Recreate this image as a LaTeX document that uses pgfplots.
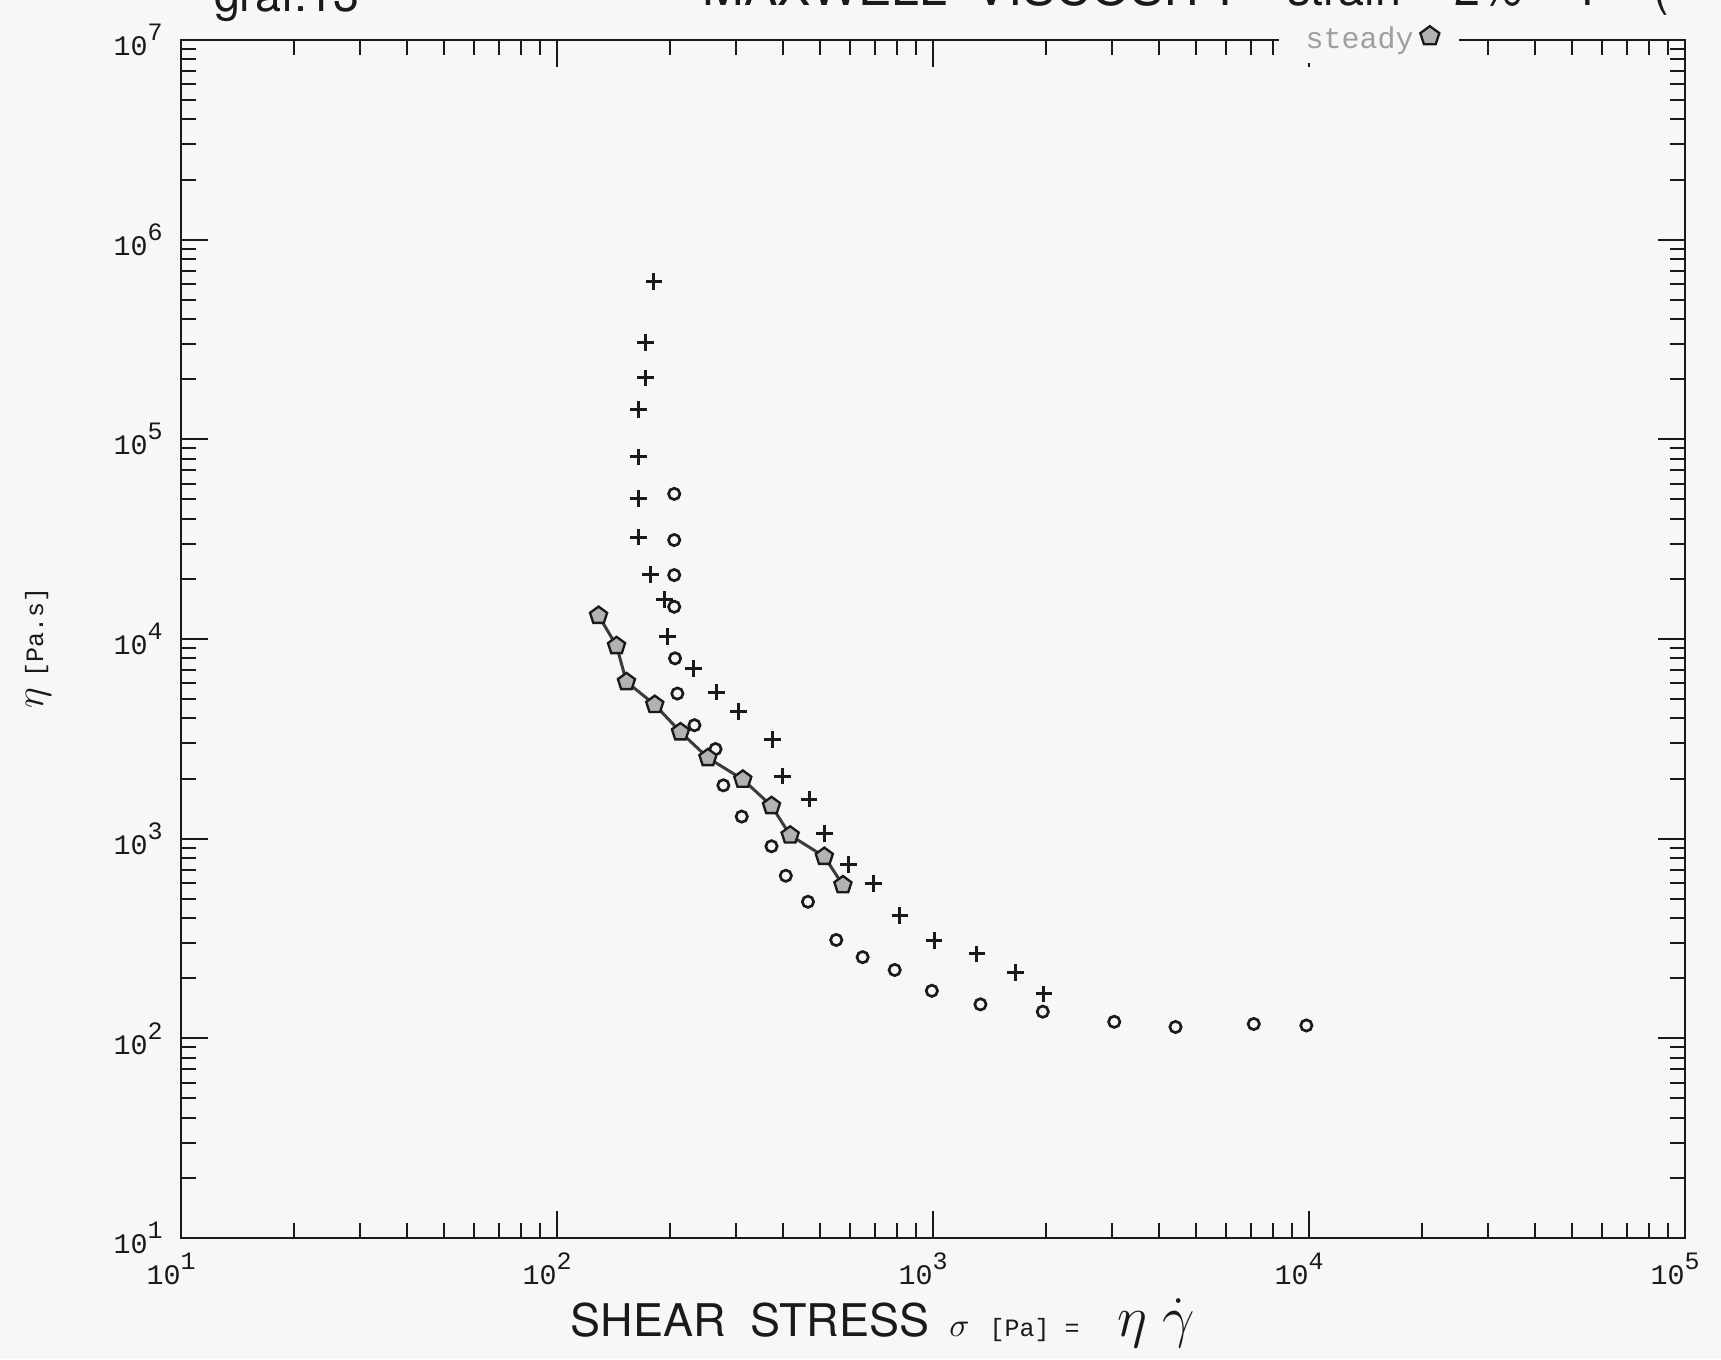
\documentclass[border=0pt]{standalone}
\usepackage{pgfplots}
\pgfplotsset{compat=1.18}
\usepackage{pgfplotstable}
\usepackage{fontspec}
\setmainfont{TeX Gyre Heros}
\newfontfamily\monof{Liberation Mono}
\definecolor{bg}{HTML}{F7F7F7}
\definecolor{ink}{HTML}{1A1A1A}
\newcommand{\tl}[1]{{\monof\fontsize{8.5}{9}\selectfont 10\raisebox{1.0ex}{\fontsize{7.5}{8}\selectfont #1}}}

\pgfplotstableread{
x y
181 6.19e5
172 3.05e5
172 2.03e5
165 1.41e5
165 8.17e4
165 5.05e4
165 3.24e4
177 2.11e4
193 1.58e4
197 1.03e4
231 7.14e3
266 5.42e3
304 4.33e3
375 3.13e3
398 2.06e3
468 1.58e3
514 1.06e3
596 745
695 596
817 413
1007 310
1309 265
1655 214
1972 167
}\crosses

\pgfplotstableread{
x y
205 5.33e4
205 3.13e4
205 2.09e4
205 1.45e4
206 8.0e3
209 5.33e3
232 3.70e3
264 2.81e3
277 1.85e3
310 1.29e3
372 916
406 652
465 483
553 311
650 255
791 220
993 173
1337 148
1959 136
3034 121
4416 114
7130 118
9840 116
}\circles

\pgfplotstableread{
x y
129 1.31e4
144 9.24e3
153 6.10e3
182 4.69e3
213 3.42e3
252 2.54e3
312 1.98e3
372 1.46e3
417 1.04e3
514 813
576 586
}\steady

\begin{document}
\begin{tikzpicture}
\fill[bg] (0,0) rectangle (516.3pt,407.7pt);
\begin{axis}[
  at={(54.3pt,36.3pt)}, anchor=south west,
  scale only axis, width=451.2pt, height=359.4pt,
  xmode=log, ymode=log,
  xmin=10, xmax=1e5, ymin=10, ymax=1e7,
  axis line style={ink, line width=0.7pt},
  tick style={ink, line width=0.6pt},
  major tick length=8pt, minor tick length=4.5pt,
  tick align=inside,
  xtick={10,100,1000,10000,100000},
  xticklabels={\tl{1},\tl{2},\tl{3},\tl{4},\tl{5}},
  ytick={10,100,1000,10000,100000,1000000,10000000},
  yticklabels={\tl{1},\tl{2},\tl{3},\tl{4},\tl{5},\tl{6},\tl{7}},
  minor xtick={20,30,40,50,60,70,80,90,200,300,400,500,600,700,800,900,2000,3000,4000,5000,6000,7000,8000,9000,20000,30000,40000,50000,60000,70000,80000,90000},
  minor ytick={20,30,40,50,60,70,80,90,200,300,400,500,600,700,800,900,2000,3000,4000,5000,6000,7000,8000,9000,20000,30000,40000,50000,60000,70000,80000,90000,2e5,3e5,4e5,5e5,6e5,7e5,8e5,9e5,2e6,3e6,4e6,5e6,6e6,7e6,8e6,9e6},
  xticklabel style={yshift=-1pt, xshift=-3pt, text=ink},
  yticklabel style={xshift=-2pt, text=ink},
  legend plot pos=right,
  legend style={at={(0.79,1)}, anchor=center, fill=bg, draw=none,
    inner xsep=6pt, inner ysep=1pt, text=gray!75,
    font=\monof\fontsize{9}{10}\selectfont},
  legend image code/.code={\draw[mark=pentagon*, mark size=3pt, line width=1.3pt, draw=ink, fill=ink!55] plot coordinates {(0.2cm,0.04cm)};},
]
\addplot[forget plot, only marks, mark=+, mark size=2.5pt, line width=0.9pt, ink] table[x=x,y=y] {\crosses};
\addplot[forget plot, only marks, mark=o, mark size=1.7pt, line width=0.8pt, ink] table[x=x,y=y] {\circles};
\addplot[ink!85, line width=0.9pt, mark=pentagon*, mark size=2.7pt, mark options={fill=gray!60, draw=ink, line width=0.7pt}] table[x=x,y=y] {\steady};
\addlegendentry{steady}
\end{axis}
% titles (cut by the top edge as in the scan)
\node[anchor=base west, inner sep=0, text=ink] at (64pt,404.2pt) {\fontsize{14}{16}\selectfont graf.13};
\node[anchor=base west, inner sep=0, text=ink] at (210.6pt,406pt) {\fontsize{15}{17}\selectfont MAXWELL\ \ VISCOSITY};
\node[anchor=base west, inner sep=0, text=ink] at (386pt,406pt) {\fontsize{14}{16}\selectfont strain = 2\%\ \ \ \ T\ \ \ \ (};
% axis labels
\node[text=ink, inner sep=0] at (264.9pt,10.8pt) {\fontsize{13.5}{15}\selectfont SHEAR\ \ STRESS \,{\fontsize{10}{11}\selectfont$\sigma$}\, {\monof\fontsize{7.5}{8}\selectfont [Pa] =}\ \ \ {\fontsize{17}{18}\selectfont$\eta$\ $\dot{\gamma}$}};
\node[text=ink, inner sep=0, rotate=90] at (11.4pt,213.3pt) {{\fontsize{12}{13}\selectfont$\eta$}\ {\monof\fontsize{7.5}{8}\selectfont [Pa.s]}};
\pgfresetboundingbox
\useasboundingbox (0,0) rectangle (516.3pt,407.7pt);
\end{tikzpicture}
\end{document}
